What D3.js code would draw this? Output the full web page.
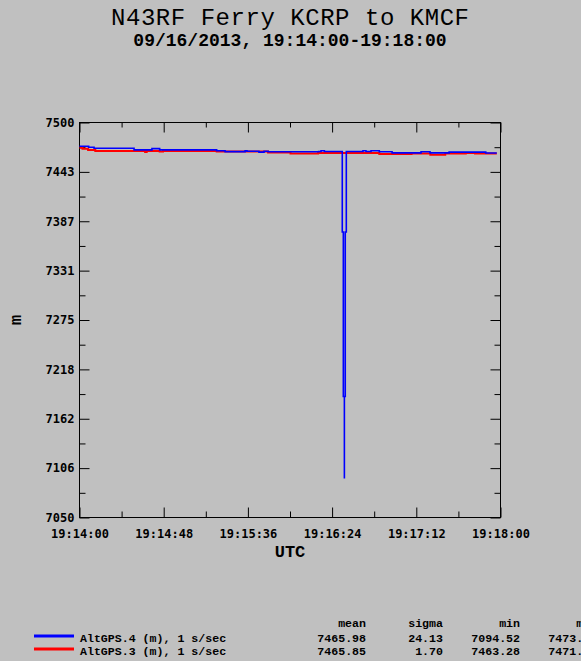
<!DOCTYPE html>
<html>
<head>
<meta charset="utf-8">
<script src="https://cdn.jsdelivr.net/npm/d3@7"></script>
<style>
  body { margin: 0; background: #c0c0c0; }
  svg { display: block; }
</style>
</head>
<body>
<div id="chart"></div>
<script>
// chart text
var title = "N43RF Ferry KCRP to KMCF";
var subtitle = "09/16/2013, 19:14:00-19:18:00";
var xTitle = "UTC";
var yTitle = "m";

var yTickLabels = ["7050", "7106", "7162", "7218", "7275", "7331", "7387", "7443", "7500"];
var xTickLabels = ["19:14:00", "19:14:48", "19:15:36", "19:16:24", "19:17:12", "19:18:00"];

// seconds after 19:14:00 where the value changes (drawn as steps)
var blueT = [0, 5.2, 8.3, 31.1, 41.3, 45.7, 78.2, 83.0, 94.4, 95.5, 102.3, 105.2, 107.5,
  136.3, 137.7, 139.6, 149.8, 150.4, 151.0, 151.0, 151.5, 152.1, 161.6, 163.3, 166.2,
  170.9, 178.2, 194.7, 199.8, 210.7, 231.6, 237.9];
var blueV = [7473.0, 7471.8, 7470.6, 7468.8, 7470.2, 7468.8, 7467.8, 7466.8, 7467.8, 7467.2, 7466.2, 7467.2, 7466.6,
  7466.9, 7467.8, 7467.0, 7375.3, 7187.8, 7094.5, 7187.8, 7375.3, 7467.0, 7467.8, 7467.0, 7467.8,
  7466.6, 7465.4, 7466.6, 7465.4, 7466.2, 7465.2, 7465.2];

var redT = [0, 1.7, 4.9, 9.0, 37.4, 38.3, 45.7, 47.6, 78.2, 107.5, 120.3, 136.0,
  170.9, 189.3, 200.0, 208.5, 220.2, 225.5, 237.9];
var redV = [7471.2, 7470.0, 7468.8, 7467.6, 7466.4, 7467.6, 7467.1, 7467.4, 7467.0, 7465.9, 7464.6, 7465.3,
  7464.1, 7464.6, 7463.3, 7464.6, 7465.2, 7464.6, 7464.6];

var legendNames = ["AltGPS.4 (m), 1 s/sec", "AltGPS.3 (m), 1 s/sec"];
var legendColors = ["#0000ff", "#ff0000"];
var statHeaders = ["mean", "sigma", "min", "max"];
var statsBlue = ["7465.98", "24.13", "7094.52", "7473.20"];
var statsRed = ["7465.85", "1.70", "7463.28", "7471.20"];

var W = 581, H = 661;
var plotL = 79.5, plotR = 500.5, plotT = 122.5, plotB = 517.5;

var svg = d3.select("#chart")
    .append("svg")
    .attr("width", W)
    .attr("height", H);

var x = d3.scaleLinear().domain([0, 240]).range([plotL, plotR]);
var y = d3.scaleLinear().domain([7050, 7500]).range([plotB, plotT]);

var xMajor = d3.range(0, 241, 48);
var xMinor = d3.range(24, 240, 48);
var yMajor = d3.range(9).map(function(i) { return 7050 + i * 56.25; });
var yMinor = d3.range(8).map(function(i) { return 7050 + 28.125 + i * 56.25; });

var tickFont = "bold 12px 'DejaVu Sans Mono', monospace";

// titles
svg.append("text")
    .attr("x", 290).attr("y", 25)
    .attr("text-anchor", "middle")
    .style("font", "24px 'Liberation Mono', monospace")
    .attr("textLength", 358)
    .text(title);
svg.append("text")
    .attr("x", 290).attr("y", 46)
    .attr("text-anchor", "middle")
    .style("font", "bold 18px 'Liberation Mono', monospace")
    .text(subtitle);

// axes (ticks point inward)
svg.append("g").attr("transform", "translate(" + plotL + ",0)")
    .call(d3.axisLeft(y).tickValues(yMajor).tickSize(-10).tickPadding(5)
        .tickFormat(function(d, i) { return yTickLabels[i]; }));
svg.append("g").attr("transform", "translate(" + plotL + ",0)")
    .call(d3.axisLeft(y).tickValues(yMinor).tickSize(-6).tickFormat(""));
svg.append("g").attr("transform", "translate(" + plotR + ",0)")
    .call(d3.axisRight(y).tickValues(yMajor).tickSize(-10).tickFormat(""));
svg.append("g").attr("transform", "translate(" + plotR + ",0)")
    .call(d3.axisRight(y).tickValues(yMinor).tickSize(-6).tickFormat(""));
svg.append("g").attr("transform", "translate(0," + plotB + ")")
    .call(d3.axisBottom(x).tickValues(xMajor).tickSize(-10).tickPadding(12)
        .tickFormat(function(d, i) { return xTickLabels[i]; }));
svg.append("g").attr("transform", "translate(0," + plotB + ")")
    .call(d3.axisBottom(x).tickValues(xMinor).tickSize(-6).tickFormat(""));
svg.append("g").attr("transform", "translate(0," + plotT + ")")
    .call(d3.axisTop(x).tickValues(xMajor).tickSize(-10).tickFormat(""));
svg.append("g").attr("transform", "translate(0," + plotT + ")")
    .call(d3.axisTop(x).tickValues(xMinor).tickSize(-5).tickFormat(""));

svg.selectAll(".domain").remove();
svg.selectAll(".tick line").attr("stroke", "#000");
svg.selectAll(".tick text").attr("fill", "#000").style("font", tickFont);

svg.append("rect")
    .attr("x", plotL).attr("y", plotT)
    .attr("width", plotR - plotL).attr("height", plotB - plotT)
    .attr("fill", "none").attr("stroke", "#000").attr("stroke-width", 1);

// axis titles
svg.append("text")
    .attr("x", 290).attr("y", 557)
    .attr("text-anchor", "middle")
    .style("font", "bold 17px 'Liberation Mono', monospace")
    .text(xTitle);
svg.append("text")
    .attr("transform", "translate(21," + ((plotT + plotB) / 2) + ") rotate(-90)")
    .attr("text-anchor", "middle")
    .style("font", "bold 17px 'Liberation Mono', monospace")
    .text(yTitle);

// series
var line = d3.line()
    .x(function(d) { return x(d.t); })
    .y(function(d) { return y(d.v); })
    .curve(d3.curveStepAfter);

var red = redT.map(function(t, i) { return { t: t, v: redV[i] }; });
var blue = blueT.map(function(t, i) { return { t: t, v: blueV[i] }; });

svg.append("path").datum(red)
    .attr("d", line).attr("fill", "none")
    .attr("stroke", "#ff0000").attr("stroke-width", 2);
svg.append("path").datum(blue)
    .attr("d", line).attr("fill", "none")
    .attr("stroke", "#0000ff").attr("stroke-width", 1.6);

// legend with statistics
var legFont = "bold 11.6px 'Liberation Mono', monospace";
var colRight = [366, 443, 520, 597];
var rowY = [641.5, 654.5];
var stats = [statsBlue, statsRed];

statHeaders.forEach(function(h, j) {
    svg.append("text")
        .attr("x", colRight[j]).attr("y", 627)
        .attr("text-anchor", "end")
        .style("font", legFont)
        .text(h);
});

legendNames.forEach(function(name, i) {
    svg.append("line")
        .attr("x1", 34).attr("x2", 74)
        .attr("y1", rowY[i] - 5.5).attr("y2", rowY[i] - 5.5)
        .attr("stroke", legendColors[i]).attr("stroke-width", 3);
    svg.append("text")
        .attr("x", 80).attr("y", rowY[i])
        .style("font", legFont)
        .text(name);
    stats[i].forEach(function(s, j) {
        svg.append("text")
            .attr("x", colRight[j]).attr("y", rowY[i])
            .attr("text-anchor", "end")
            .style("font", legFont)
            .text(s);
    });
});
</script>
</body>
</html>
